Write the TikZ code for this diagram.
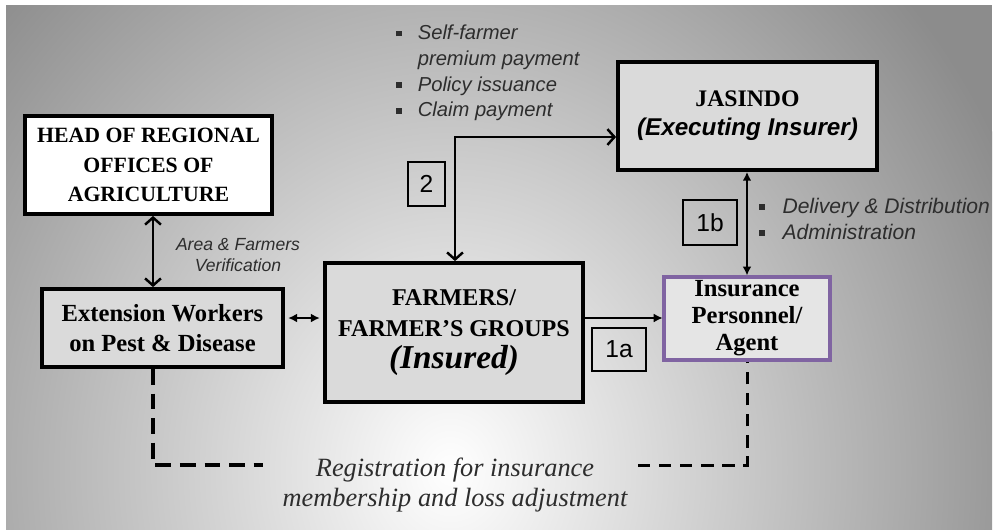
\documentclass[tikz,border=0pt]{standalone}
\usepackage{fontspec}
\setmainfont{Liberation Serif}
\newfontfamily\arialf{Liberation Sans}
\usetikzlibrary{arrows.meta}
\definecolor{bgedge}{RGB}{140,140,140}
\definecolor{boxgray}{RGB}{218,218,218}
\definecolor{agentpurple}{RGB}{128,100,162}
\definecolor{labelgray}{RGB}{45,45,45}
\newcommand{\sqbullet}{\raisebox{0.3ex}{\rule{3.2pt}{3.2pt}}}

\begin{document}
\begin{tikzpicture}[x=0.02cm,y=-0.02cm,
	blk/.style={draw=black,line width=2.2pt,fill=boxgray,align=center,inner sep=0pt},
	numtag/.style={draw=black,line width=0.6pt,inner sep=0pt,font=\arialf\fontsize{14}{16}\selectfont},
	bigarr/.style={line width=1.4pt,{Straight Barb[length=4pt,width=9pt]}-{Straight Barb[length=4pt,width=9pt]}},
	thinarr/.style={line width=0.6pt,-{Latex[length=5pt,width=5pt]}},
	regdash/.style={line width=1.8pt,dash pattern=on 9pt off 5pt},
	note/.style={font=\arialf\itshape,text=labelgray,align=left,inner sep=0pt}]
	%% background
	\useasboundingbox (0,0) rectangle (994,529);
	\fill[white] (0,0) rectangle (994,529);
	\begin{scope}
		\clip (6,5) rectangle (992,529);
		\fill[bgedge] (6,5) rectangle (992,529);
		\shade[inner color=white,outer color=bgedge] (450,470) ellipse (620 and 700);
	\end{scope}
	%% boxes
	\node[blk,fill=white,minimum width=4.94cm,minimum height=1.96cm,
		font=\bfseries\fontsize{12.4}{17}\selectfont] (HEAD) at (148.5,165)
		{HEAD OF REGIONAL\\OFFICES OF\\AGRICULTURE};
	\node[blk,minimum width=4.82cm,minimum height=1.56cm,
		font=\bfseries\fontsize{14}{17}\selectfont] (EXT) at (162.5,328)
		{Extension Workers\\on Pest \& Disease};
	\node[blk,minimum width=5.16cm,minimum height=2.78cm,
		font=\bfseries\fontsize{13.7}{17.6}\selectfont] (FARM) at (454,332.5)
		{FARMERS/\\FARMER'S GROUPS\\[1pt]{\itshape\fontsize{19}{20}\selectfont (Insured)}};
	\node[blk,minimum width=5.18cm,minimum height=2.16cm,
		font=\bfseries\fontsize{13.5}{16.4}\selectfont] (JAS) at (747.5,116)
		{JASINDO\\{\arialf\itshape\fontsize{13.8}{16}\selectfont (Executing Insurer)}};
	\node[blk,draw=agentpurple,line width=1.8pt,fill=boxgray!70!white,
		minimum width=3.32cm,minimum height=1.66cm,
		font=\bfseries\fontsize{14}{15.3}\selectfont] (INS) at (747,318.5)
		{Insurance\\Personnel/\\Agent};
	%% number tags
	\node[numtag,minimum width=0.74cm,minimum height=0.88cm] (T2) at (426.5,184) {2};
	\node[numtag,minimum width=1.08cm,minimum height=0.86cm] (T1a) at (619,349.5) {1a};
	\node[numtag,minimum width=1.08cm,minimum height=0.9cm] (T1b) at (710,222.5) {1b};
	%% connectors
	\coordinate (vx) at (153,0);
	\coordinate (hy) at (0,318);
	\coordinate (bend) at (455,137);
	\draw[bigarr] (HEAD.south -| vx) -- (EXT.north -| vx);
	\draw[bigarr] (FARM.north -| bend) -- (bend) -- (JAS.west |- bend);
	\draw[line width=1.3pt,{Latex[length=5pt,width=5pt]}-{Latex[length=5pt,width=5pt]}]
		(JAS.south -| INS.north) -- (INS.north);
	\draw[line width=0.6pt,{Latex[length=5pt,width=5pt]}-{Latex[length=5pt,width=5pt]},
		shorten <=2pt,shorten >=2pt] (EXT.east |- hy) -- (FARM.west |- hy);
	\draw[thinarr] (FARM.east |- hy) -- (INS.west |- hy);
	\coordinate (regL) at (263,465);
	\coordinate (regR) at (638,465);
	\draw[regdash] (EXT.south -| vx) |- (regL);
	\draw[regdash,line width=1.7pt,dash pattern=on 7pt off 5pt] (regR) -| (INS.south);
	%% labels
	\node[note,align=center,font=\arialf\itshape\fontsize{10}{12}\selectfont] (verif) at (238,255)
		{Area \& Farmers\\Verification};
	\node[note,anchor=north west,font=\arialf\itshape\fontsize{11.5}{14.7}\selectfont] (svc) at (396,21)
		{\begin{tabular}{@{}l@{\hspace{9pt}}l@{}}
			\sqbullet & Self-farmer\\
			& premium payment\\
			\sqbullet & Policy issuance\\
			\sqbullet & Claim payment
		\end{tabular}};
	\node[note,anchor=west,font=\arialf\itshape\fontsize{12}{14.7}\selectfont] (dist) at (759,221)
		{\begin{tabular}{@{}l@{\hspace{10pt}}l@{}}
			\sqbullet & Delivery \& Distribution\\
			\sqbullet & Administration
		\end{tabular}};
	\node[text=labelgray,align=center,font=\itshape\fontsize{15}{17}\selectfont] (reg) at (455,485)
		{Registration for insurance\\membership and loss adjustment};
\end{tikzpicture}
\end{document}
